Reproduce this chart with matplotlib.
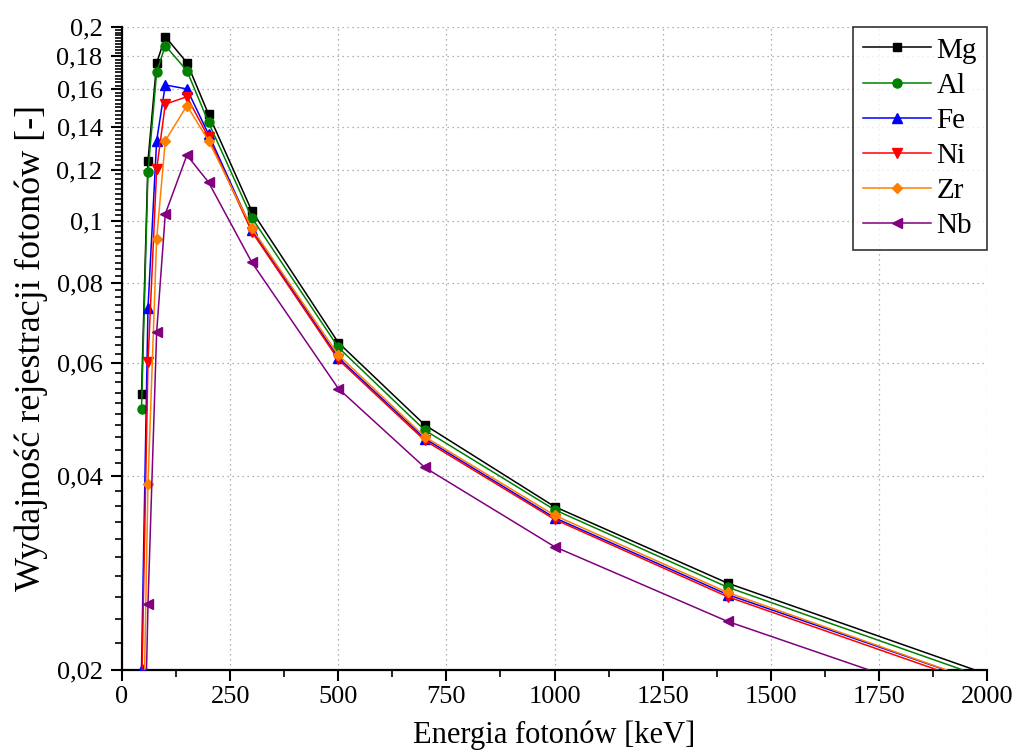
import matplotlib
matplotlib.use("Agg")
import matplotlib.pyplot as plt
from matplotlib.ticker import FixedLocator, MultipleLocator, FuncFormatter, NullFormatter

plt.rcParams['font.family'] = ['Liberation Serif', 'DejaVu Serif']

energy = [45, 60, 80, 100, 150, 200, 300, 500, 700, 1000, 1400, 2000]
mg = [0.0537, 0.1238, 0.1757, 0.1932, 0.1760, 0.1463, 0.1035, 0.0646, 0.0481, 0.0359, 0.0273, 0.0197]
al = [0.0509, 0.1189, 0.1701, 0.1871, 0.1710, 0.1421, 0.1010, 0.0635, 0.0472, 0.0355, 0.0269, 0.0194]
fe = [0.0201, 0.0730, 0.1330, 0.1625, 0.1602, 0.1362, 0.0968, 0.0612, 0.0458, 0.0345, 0.0262, 0.0190]
ni = [0.0180, 0.0603, 0.1201, 0.1517, 0.1558, 0.1347, 0.0961, 0.0608, 0.0455, 0.0343, 0.0260, 0.0188]
zr = [0.0110, 0.0389, 0.0935, 0.1331, 0.1509, 0.1331, 0.0973, 0.0618, 0.0461, 0.0348, 0.0264, 0.0190]
nb = [0.0090, 0.0253, 0.0670, 0.1024, 0.1264, 0.1147, 0.0861, 0.0548, 0.0413, 0.0311, 0.0238, 0.0173]

labels = ['Mg', 'Al', 'Fe', 'Ni', 'Zr', 'Nb']
series = [mg, al, fe, ni, zr, nb]
colors = ['#000000', '#008000', '#0000ff', '#ff0000', '#ff8000', '#800080']
markers = ['s', 'o', '^', 'v', 'D', '<']
msizes = [6, 6.5, 7, 7, 5.5, 7]

y_ticks = [0.02, 0.04, 0.06, 0.08, 0.1, 0.12, 0.14, 0.16, 0.18, 0.2]
x_ticks = [0, 250, 500, 750, 1000, 1250, 1500, 1750, 2000]

fig = plt.figure(figsize=(10.17, 7.56), dpi=100)
ax = fig.add_axes([0.12, 0.1138, 0.8505, 0.8505])

for lab, ys, c, m, ms in zip(labels, series, colors, markers, msizes):
    ax.plot(energy, ys, color=c, marker=m, markersize=ms, linewidth=1.1,
            label=lab, zorder=3)

ax.set_yscale('log')
ax.set_xlim(0, 2000)
ax.set_ylim(0.02, 0.2)

ax.yaxis.set_major_locator(FixedLocator(y_ticks))
ax.yaxis.set_minor_locator(MultipleLocator(0.002))
ax.yaxis.set_minor_formatter(NullFormatter())
ax.yaxis.set_major_formatter(FuncFormatter(lambda v, p: ('%g' % v).replace('.', ',')))

ax.xaxis.set_major_locator(FixedLocator(x_ticks))
ax.xaxis.set_minor_locator(MultipleLocator(125))

ax.grid(True, which='major', linestyle=(0, (1, 3)), color='#999999', linewidth=0.9)
ax.set_axisbelow(True)

for s in ['top', 'right']:
    ax.spines[s].set_visible(False)
for s in ['left', 'bottom']:
    ax.spines[s].set_linewidth(1.6)

ax.tick_params(which='major', direction='out', length=8, width=1.5, labelsize=19)
ax.tick_params(axis='y', which='major', pad=6)
ax.tick_params(which='minor', direction='out', length=5, width=1.2)

ax.set_xlabel('Energia fotonów [keV]', fontsize=22, labelpad=9)
ax.set_ylabel('Wydajność rejestracji fotonów [-]', fontsize=26, labelpad=6)

leg = ax.legend(loc='upper right', fontsize=21, frameon=True, fancybox=False,
                edgecolor='black', borderaxespad=0.0, handlelength=2.3,
                labelspacing=0.3, borderpad=0.35, handletextpad=0.2)
leg.get_frame().set_linewidth(1.2)

fig.savefig('out.png', dpi=100)
